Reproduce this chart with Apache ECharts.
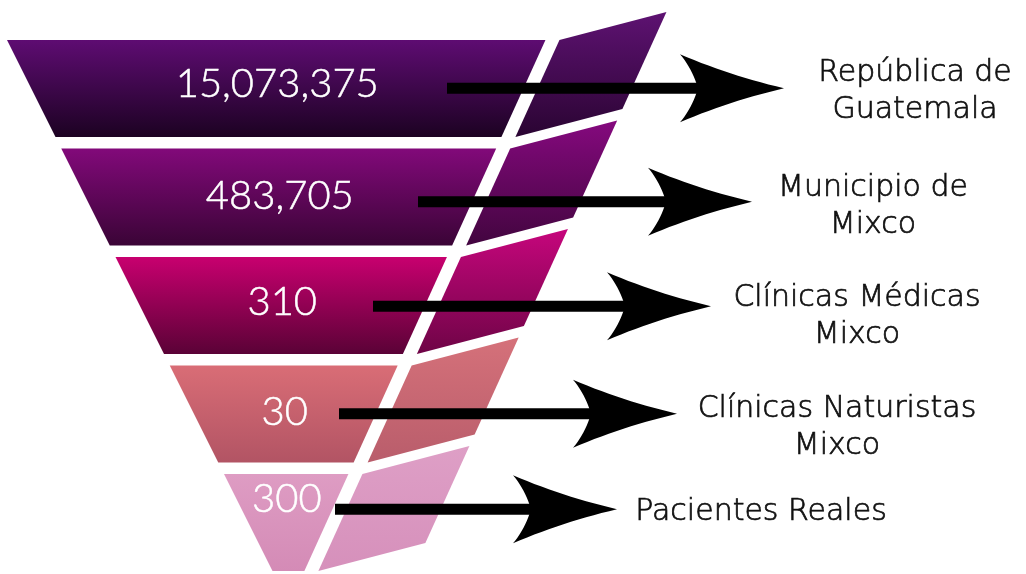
<!DOCTYPE html>
<html><head><meta charset="utf-8">
<script src="https://cdn.jsdelivr.net/npm/echarts@6/dist/echarts.min.js"></script>
<style>html,body{margin:0;padding:0;background:#fff}#c{width:1026px;height:574px}</style>
</head><body><div id="c"></div>
<script>
// ---- data ----
const categories = ['República de\nGuatemala', 'Municipio de\nMixco', 'Clínicas Médicas\nMixco', 'Clínicas Naturistas\nMixco', 'Pacientes Reales'];
const values = [15073375, 483705, 310, 30, 300];

// ---- layout / style (not data) ----
const frontColors = [['#5e0c72', '#1c0222'], ['#82097a', '#3a0436'], ['#c8006f', '#5a0236'], ['#d96d76', '#b25464'], ['#de9cc3', '#d48bb6']];
const backColors = [['#5e1272', '#2a0432'], ['#85097e', '#42053f'], ['#c6067c', '#6e0446'], ['#d5717a', '#b95d6b'], ['#de9fc6', '#d690bb']];
const arrowStart = [447, 418, 373, 339, 335];
const arrowTip = [784, 752, 711, 677, 617];
const arrowDy = [-6, -1, -5, -6, -19];
const numDy = [-10, -7, -9, -8, -29];
const labelX = [915, 873, 857, 837, 761];
const labelDy = [-3, 4, 5, 8, -16];

function quad(p0, c, p1, n) {
  const pts = [];
  for (let k = 1; k <= n; k++) {
    const t = k / n, u = 1 - t;
    pts.push([u * u * p0[0] + 2 * u * t * c[0] + t * t * p1[0], u * u * p0[1] + 2 * u * t * c[1] + t * t * p1[1]]);
  }
  return pts;
}

function renderItem(params, api) {
  const i = params.dataIndex;
  const cy = api.coord([0, api.value(1)])[1];
  const h = Math.abs(api.size([0, 1])[1]);
  const X = v => api.coord([v, i])[0];
  const top = cy - h / 2;
  const bot = top + h * 0.894;
  const L = y => 7 + 0.5 * (y - 40);
  const R = y => 545 - 0.454 * (y - 41);
  const B = y => R(y) + 14;
  const grad = c => ({ type: 'linear', x: 0, y: 0, x2: 0, y2: 1, colorStops: [{ offset: 0, color: c[0] }, { offset: 1, color: c[1] }] });

  const front = {
    type: 'polygon', z2: 1,
    shape: { points: [[X(L(top)), top], [X(R(top)), top], [X(R(bot)), bot], [X(L(bot)), bot]] },
    style: { fill: grad(frontColors[i]) }
  };
  const back = {
    type: 'polygon', z2: 1,
    shape: { points: [[X(B(top)), top], [X(B(top) + 107), top - 28], [X(B(bot) + 107), bot - 28], [X(B(bot)), bot]] },
    style: { fill: grad(backColors[i]) }
  };
  const ny = cy + numDy[i];
  const num = {
    type: 'text', z2: 3,
    style: {
      text: api.value(0).toLocaleString('en-US'),
      x: X((L(ny) + R(ny)) / 2), y: ny,
      fill: '#ffffff', fontSize: 40, fontFamily: 'Lato', fontWeight: 300, align: 'center', verticalAlign: 'middle',
      stroke: '#ffffff', lineWidth: 0.5
    }
  };
  // arrow
  const ay = cy + arrowDy[i];
  const tip = [X(arrowTip[i]), ay];
  const len = 104, hh = 34;
  const barbT = [tip[0] - len, ay - hh], barbB = [tip[0] - len, ay + hh];
  const notch = [tip[0] - 86, ay];
  let pts = [tip];
  pts = pts.concat(quad(tip, [tip[0] - 55, ay - 13], barbT, 14));
  pts = pts.concat(quad(barbT, [tip[0] - 92, ay - 20], notch, 10));
  pts = pts.concat(quad(notch, [tip[0] - 92, ay + 20], barbB, 10));
  pts = pts.concat(quad(barbB, [tip[0] - 55, ay + 13], tip, 14));
  const head = { type: 'polygon', z2: 5, shape: { points: pts }, style: { fill: '#000000' } };
  const shaft = {
    type: 'rect', z2: 5,
    shape: { x: X(arrowStart[i]), y: ay - 5.5, width: notch[0] + 4 - X(arrowStart[i]), height: 11 },
    style: { fill: '#000000' }
  };
  const label = {
    type: 'text', z2: 5,
    style: {
      text: categories[i], x: X(labelX[i]), y: cy + labelDy[i],
      fill: '#111111', fontSize: 30, fontFamily: 'DejaVu Sans', fontWeight: 200, lineHeight: 37,
      align: 'center', verticalAlign: 'middle',
      stroke: '#111111', lineWidth: 0.7
    }
  };
  return { type: 'group', children: [front, back, num, shaft, head, label] };
}

const chart = echarts.init(document.getElementById('c'), null, { renderer: 'canvas' });
chart.setOption({
  backgroundColor: '#ffffff',
  animation: false,
  grid: { left: 0, top: 0, right: 0, bottom: 0 },
  xAxis: { type: 'value', min: 0, max: 1026, show: false },
  yAxis: { type: 'value', inverse: true, min: -0.8687, max: 4.4217, show: false },
  series: [{
    type: 'custom',
    renderItem: renderItem,
    clip: false,
    data: values.map((v, i) => [v, i]),
    encode: { x: 0, y: 1 }
  }]
});
</script></body></html>
